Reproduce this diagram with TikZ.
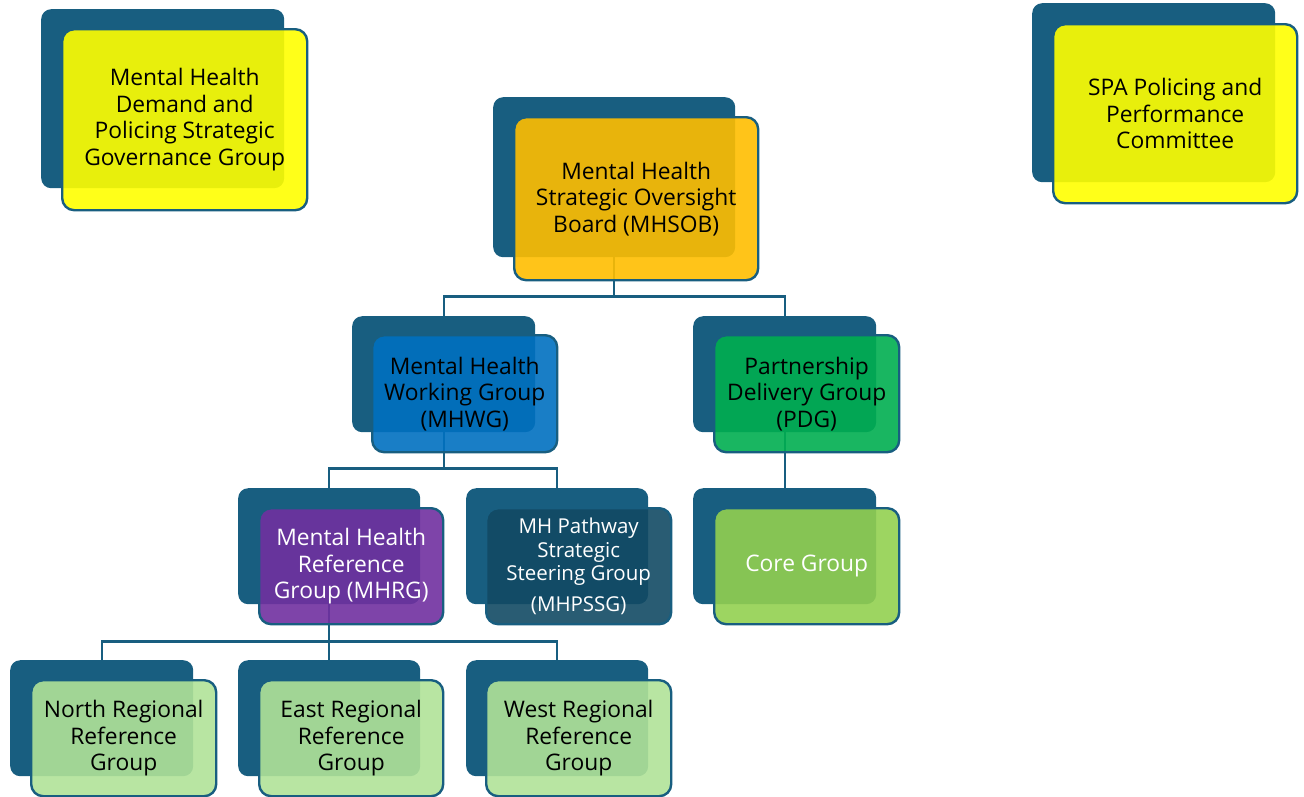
\documentclass[tikz,border=0pt]{standalone}
\usepackage{fontspec}
\setmainfont{Open Sans}

\definecolor{boardblue}{RGB}{24,94,128}
\definecolor{govyellow}{RGB}{255,255,0}
\definecolor{sobgold}{RGB}{255,190,0}
\definecolor{wgblue}{RGB}{0,112,192}
\definecolor{pdggreen}{RGB}{0,174,80}
\definecolor{rgpurple}{RGB}{112,48,160}
\definecolor{pssgteal}{RGB}{18,74,100}
\definecolor{coregreen}{RGB}{146,208,80}
\definecolor{regiongreen}{RGB}{176,226,152}

\tikzset{
  backbox/.style={fill=boardblue, rounded corners=10pt, inner sep=0pt, anchor=north west},
  frontbox/.style={draw=boardblue, line width=2.4pt, rounded corners=12pt,
    fill opacity=0.9, text opacity=1, inner sep=0pt, anchor=north west,
    align=center, font=\fontsize{22.8}{26.5}\selectfont},
  link/.style={draw=boardblue, line width=2.4pt},
}

\begin{document}
\begin{tikzpicture}[x=1pt,y=-1pt]
    \useasboundingbox (0,0) rectangle (1304,796);

    %Back boxes
    \node[backbox, minimum width=243pt, minimum height=179pt] (govBack) at (41,9) {};
    \node[backbox, minimum width=243pt, minimum height=179pt] (spaBack) at (1032,3) {};
    \node[backbox, minimum width=242pt, minimum height=160pt] (sobBack) at (493,97) {};
    \node[backbox, minimum width=183pt, minimum height=116pt] (wgBack) at (352,316) {};
    \node[backbox, minimum width=183pt, minimum height=116pt] (pdgBack) at (693,316) {};
    \node[backbox, minimum width=182pt, minimum height=116pt] (rgBack) at (238,488) {};
    \node[backbox, minimum width=182pt, minimum height=116pt] (pssgBack) at (466,488) {};
    \node[backbox, minimum width=183pt, minimum height=116pt] (coreBack) at (693,488) {};
    \node[backbox, minimum width=183pt, minimum height=116pt] (northBack) at (10,660) {};
    \node[backbox, minimum width=182pt, minimum height=116pt] (eastBack) at (238,660) {};
    \node[backbox, minimum width=182pt, minimum height=116pt] (westBack) at (466,660) {};

    %Lines
    \draw[link] (sobBack.south) -- ++(0,39) -| (wgBack.north);
    \draw[link] (sobBack.south) -- ++(0,39) -| (pdgBack.north);
    \draw[link] (wgBack.south) -- ++(0,36) -| (rgBack.north);
    \draw[link] (wgBack.south) -- ++(0,36) -| (pssgBack.north);
    \draw[link] (pdgBack.south) -- (coreBack.north);
    \draw[link] (rgBack.south) -- ++(0,37) -| (northBack.north);
    \draw[link] (rgBack.south) -- ++(0,37) -| (eastBack.north);
    \draw[link] (rgBack.south) -- ++(0,37) -| (westBack.north);

    %Front boxes
    \node[frontbox, fill=govyellow, minimum width=245pt, minimum height=181pt] (gov) at (61,28)
        {Mental Health\\Demand and\\Policing Strategic\\Governance Group};
    \node[frontbox, fill=govyellow, minimum width=244pt, minimum height=179pt] (spa) at (1052,23)
        {SPA Policing and\\Performance\\Committee};
    \node[frontbox, fill=sobgold, minimum width=244pt, minimum height=163pt] (sob) at (513,116)
        {Mental Health\\Strategic Oversight\\Board (MHSOB)};
    \node[frontbox, fill=wgblue, minimum width=185pt, minimum height=117pt] (wg) at (371,334)
        {Mental Health\\Working Group\\(MHWG)};
    \node[frontbox, fill=pdggreen, minimum width=185pt, minimum height=117pt] (pdg) at (713,334)
        {Partnership\\Delivery Group\\(PDG)};
    \node[frontbox, fill=rgpurple, text=white, minimum width=184pt, minimum height=116pt] (rg) at (258,507)
        {Mental Health\\Reference\\Group (MHRG)};
    \node[frontbox, fill=pssgteal, text=white, minimum width=185pt, minimum height=116pt,
        font=\fontsize{20.5}{23.5}\selectfont] (pssg) at (485,507)
        {MH Pathway\\Strategic\\Steering Group\\[7pt](MHPSSG)};
    \node[frontbox, fill=coregreen, text=white, minimum width=185pt, minimum height=116pt] (core) at (713,507)
        {Core Group};
    \node[frontbox, fill=regiongreen, minimum width=185pt, minimum height=116pt] (north) at (30,679)
        {North Regional\\Reference\\Group};
    \node[frontbox, fill=regiongreen, minimum width=184pt, minimum height=116pt] (east) at (258,679)
        {East Regional\\Reference\\Group};
    \node[frontbox, fill=regiongreen, minimum width=185pt, minimum height=116pt] (west) at (485,679)
        {West Regional\\Reference\\Group};
\end{tikzpicture}
\end{document}
